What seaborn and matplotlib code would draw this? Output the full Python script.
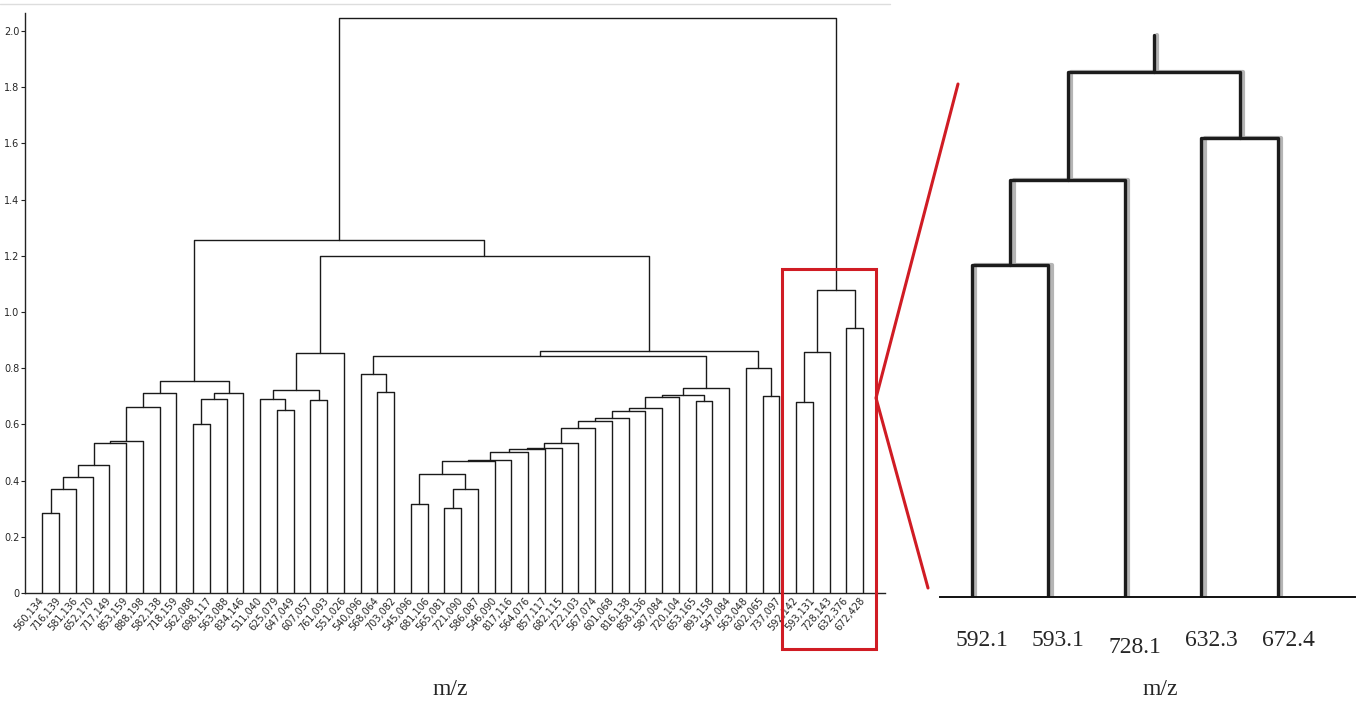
import numpy as np
import pandas as pd
import matplotlib
matplotlib.use("Agg")
import matplotlib.pyplot as plt
import seaborn as sns
from matplotlib.patches import Rectangle
from matplotlib.lines import Line2D
from matplotlib.transforms import ScaledTranslation

# ---------------- data ----------------
leaf_labels = ["560,134", "716,139", "581,136", "652,170", "717,149", "853,159", "888,198",
               "582,138", "718,159", "562,088", "698,117", "563,088", "834,146", "511,040",
               "625,079", "647,049", "607,057", "761,093", "551,026", "540,096", "568,064",
               "703,082", "545,096", "681,106", "565,081", "721,090", "586,087", "546,090",
               "817,116", "564,076", "857,117", "682,115", "722,103", "567,074", "601,068",
               "816,138", "858,136", "587,084", "720,104", "653,165", "893,158", "547,084",
               "563,048", "602,065", "737,097", "592,142", "593,131", "728,143", "632,376",
               "672,428"]

# linkage: node ids 0..49 are leaves, merges create ids 50..98
merge_left = [0, 50, 51, 52, 53, 54, 55, 56, 9, 58, 59, 57,
              14, 13, 16, 63, 65, 20, 19,
              22, 24, 70, 69, 72, 73, 74, 75, 76, 77, 78, 79, 80, 81, 82, 83, 39, 84, 86,
              68, 43, 42, 88, 66, 61,
              45, 94, 48, 95, 93]
merge_right = [1, 2, 3, 4, 5, 6, 7, 8, 10, 11, 12, 60,
               15, 62, 17, 64, 18, 21, 67,
               23, 25, 26, 71, 27, 28, 29, 30, 31, 32, 33, 34, 35, 36, 37, 38, 40, 85, 41,
               87, 44, 89, 90, 91, 92,
               46, 47, 49, 96, 97]
merge_height = [0.286, 0.371, 0.413, 0.454, 0.534, 0.540, 0.663, 0.712, 0.603, 0.692, 0.713, 0.753,
                0.650, 0.690, 0.687, 0.722, 0.853, 0.715, 0.780,
                0.317, 0.301, 0.371, 0.423, 0.471, 0.474, 0.503, 0.512, 0.516, 0.533, 0.586,
                0.611, 0.621, 0.648, 0.657, 0.699, 0.683, 0.703, 0.731,
                0.845, 0.700, 0.801, 0.860, 1.200, 1.255,
                0.681, 0.856, 0.942, 1.078, 2.045]

y_ticks = [0, 0.2, 0.4, 0.6, 0.8, 1.0, 1.2, 1.4, 1.6, 1.8, 2.0]
y_tick_labels = ["0", "0.2", "0.4", "0.6", "0.8", "1.0", "1.2", "1.4", "1.6", "1.8", "2.0"]

zoom_leaves = [45, 46, 47, 48, 49]
zoom_labels = ["592.1", "593.1", "728.1", "632.3", "672.4"]
zoom_stub_top = 1.154


def dendro_frame(leaf_pos):
    pos = dict(leaf_pos)
    hgt = {k: 0.0 for k in pos}
    rows = []
    n = len(leaf_labels)
    last = None
    for k, (a, b, h) in enumerate(zip(merge_left, merge_right, merge_height)):
        node = n + k
        if a not in pos or b not in pos:
            continue
        xa, xb = pos[a], pos[b]
        for x, y in zip([xa, xa, xb, xb], [hgt[a], h, h, hgt[b]]):
            rows.append({"seg": node, "x": x, "y": y})
        pos[node] = (xa + xb) / 2
        hgt[node] = h
        last = node
    return pd.DataFrame(rows), pos, hgt, last


W, H = 1361, 704
fig = plt.figure(figsize=(W / 100, H / 100), dpi=100)
sns.set_style("ticks")
narrow = ["Liberation Sans Narrow", "DejaVu Sans"]
serif = ["Liberation Serif", "DejaVu Serif"]

# ---------------- left: full dendrogram ----------------
axL = fig.add_axes([25 / W, 1 - 593 / H, 860 / W, 580 / H])
leaf_pos = {i: float(i) for i in range(len(leaf_labels))}
dfL, posL, hL, rootL = dendro_frame(leaf_pos)
sns.lineplot(data=dfL, x="x", y="y", units="seg", estimator=None, sort=False,
             color="#1a1a1a", lw=1.0, ax=axL, legend=False)
axL.set_xlim(-1.03, 50.31)
axL.set_ylim(0, 2.064)
axL.set_yticks(y_ticks)
axL.set_yticklabels(y_tick_labels, family=narrow, fontsize=7)
axL.set_xticks(range(len(leaf_labels)))
axL.set_xticklabels(leaf_labels, rotation=50, ha="right", va="center",
                    rotation_mode="anchor", family=narrow, fontsize=7)
axL.tick_params(axis="x", length=0, pad=4)
axL.tick_params(axis="y", length=3, width=0.8, pad=1, direction="out", color="#222")
for s in ["top", "right"]:
    axL.spines[s].set_visible(False)
for s in ["left", "bottom"]:
    axL.spines[s].set_linewidth(1.0)
    axL.spines[s].set_color("#222")
axL.set_ylabel("")
axL.set_xlabel("m/z", family=serif, fontsize=17)
axL.xaxis.set_label_coords(0.494, -0.167)
axL.xaxis.label.set_va("center")

# red box around the zoomed cluster
axL.add_patch(Rectangle((44.16, -0.199), 5.61, 1.352, fill=False, ec="#d01c24",
                        lw=2.2, clip_on=False, zorder=5))

# ---------------- right: zoomed cluster ----------------
axR = fig.add_axes([940 / W, 1 - 597 / H, 415 / W, 567 / H])
zpos = {leaf: float(j) for j, leaf in enumerate(zoom_leaves)}
dfR, posR, hR, rootR = dendro_frame(zpos)
stub = pd.DataFrame({"seg": [999, 999], "x": [posR[rootR]] * 2,
                     "y": [hR[rootR], zoom_stub_top]})
dfR = pd.concat([dfR, stub], ignore_index=True)

sns.lineplot(data=dfR, x="x", y="y", units="seg", estimator=None, sort=False,
             color="#b5b5b5", lw=3.0, ax=axR, legend=False)
shift = ScaledTranslation(3.5 / 100, 0, fig.dpi_scale_trans)
for ln in axR.lines:
    ln.set_transform(axR.transData + shift)
n_sh = len(axR.lines)
sns.lineplot(data=dfR, x="x", y="y", units="seg", estimator=None, sort=False,
             color="#1c1c1c", lw=2.4, ax=axR, legend=False)

axR.set_xlim(-0.418, 5.007)
axR.set_ylim(0, 1.164)
axR.set_yticks([])
axR.set_xticks(range(len(zoom_labels)))
axR.set_xticklabels(zoom_labels, family=serif, fontsize=17)
axR.tick_params(axis="x", length=0, pad=24)
for j, lab in enumerate(axR.get_xticklabels()):
    dy = -7 if j == 2 else 0
    lab.set_transform(lab.get_transform() + ScaledTranslation(10 / 100, dy / 100, fig.dpi_scale_trans))
for s in ["top", "right", "left"]:
    axR.spines[s].set_visible(False)
axR.spines["bottom"].set_linewidth(1.4)
axR.spines["bottom"].set_color("#111")
axR.set_ylabel("")
axR.set_xlabel("m/z", family=serif, fontsize=17)
axR.xaxis.set_label_coords(0.530, -0.164)
axR.xaxis.label.set_va("center")

# ---------------- decorations ----------------
def fx(px):
    return px / W


def fy(py):
    return 1 - py / H


fig.add_artist(Line2D([fx(958), fx(876), fx(928)], [fy(84), fy(398), fy(588)],
                      color="#d01c24", lw=2.2, transform=fig.transFigure))
fig.add_artist(Line2D([fx(0), fx(890)], [fy(4), fy(4)], color="#dddddd", lw=1.0,
                      transform=fig.transFigure))

fig.savefig("out.png", dpi=100, facecolor="white")
